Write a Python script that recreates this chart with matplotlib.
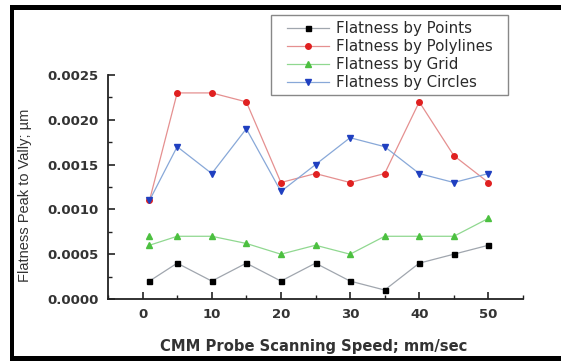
import matplotlib
matplotlib.use("Agg")
import matplotlib.pyplot as plt
from matplotlib.patches import Rectangle
from matplotlib.ticker import MultipleLocator, FormatStrFormatter

# Data
speed = [1, 5, 10, 15, 20, 25, 30, 35, 40, 45, 50]
points = [0.0002, 0.0004, 0.0002, 0.0004, 0.0002, 0.0004, 0.0002, 0.0001, 0.0004, 0.0005, 0.0006]
polylines = [0.0011, 0.0023, 0.0023, 0.0022, 0.0013, 0.0014, 0.0013, 0.0014, 0.0022, 0.0016, 0.0013]
grid = [0.0006, 0.0007, 0.0007, 0.00062, 0.0005, 0.0006, 0.0005, 0.0007, 0.0007, 0.0007, 0.0009]
grid_extra_x = [1]
grid_extra = [0.0007]
circles = [0.0011, 0.0017, 0.0014, 0.0019, 0.0012, 0.0015, 0.0018, 0.0017, 0.0014, 0.0013, 0.0014]
labels = ["Flatness by Points", "Flatness by Polylines", "Flatness by Grid", "Flatness by Circles"]
xticks = [0, 10, 20, 30, 40, 50]

W, H = 561, 361
fig = plt.figure(figsize=(W / 100, H / 100), dpi=100)
fig.patch.set_facecolor("white")

ax = fig.add_axes([108 / W, 1 - 299 / H, (523 - 108) / W, (299 - 75) / H])

ms = 4.0
lw = 0.9
ax.plot(speed, points, color="#a0a6ae", lw=lw, marker="s", ms=ms * 0.9,
        mfc="black", mec="black", label=labels[0])
ax.plot(speed, polylines, color="#e59090", lw=lw, marker="o", ms=ms,
        mfc="#e02020", mec="#e02020", label=labels[1])
ax.plot(speed, grid, color="#90d890", lw=lw, marker="^", ms=ms + 0.6,
        mfc="#4cc040", mec="#4cc040", label=labels[2])
ax.plot(grid_extra_x, grid_extra, ls="none", marker="^", ms=ms + 0.6,
        mfc="#4cc040", mec="#4cc040")
ax.plot(speed, circles, color="#88a8d8", lw=lw, marker="v", ms=ms + 0.6,
        mfc="#1f3fc0", mec="#1f3fc0", label=labels[3])

ax.set_xlim(-5, 55)
ax.set_ylim(0, 0.0025)
ax.set_xticks(xticks)
ax.xaxis.set_minor_locator(MultipleLocator(5))
ax.yaxis.set_major_locator(MultipleLocator(0.0005))
ax.yaxis.set_minor_locator(MultipleLocator(0.00025))
ax.yaxis.set_major_formatter(FormatStrFormatter("%.4f"))

for s in ["top", "right"]:
    ax.spines[s].set_visible(False)
for s in ["left", "bottom"]:
    ax.spines[s].set_linewidth(1.3)
    ax.spines[s].set_color("#222222")

ax.tick_params(which="major", direction="in", length=5, width=1.2, pad=6.5,
               labelsize=9.5, colors="#222222")
ax.tick_params(which="minor", direction="in", length=3, width=1.0, colors="#222222")
for t in ax.get_xticklabels() + ax.get_yticklabels():
    t.set_fontweight("bold")
    t.set_color("#333333")

fig.text(25 / W, 1 - 195 / H, "Flatness Peak to Vally; µm", rotation=90,
         ha="center", va="center", fontsize=10.5, family="Liberation Sans",
         color="#333333")
fig.text(314 / W, 1 - 346 / H, "CMM Probe Scanning Speed; mm/sec",
         ha="center", va="center", fontsize=10.6, fontweight="bold",
         color="#333333")

leg = ax.legend(loc="upper left", bbox_to_anchor=(287 / W, 1 - 21 / H),
                bbox_transform=fig.transFigure, borderaxespad=0, frameon=False,
                fontsize=10.8, handlelength=2.8, handletextpad=0.45,
                labelspacing=0.2, borderpad=0)
for t in leg.get_texts():
    t.set_color("#2a2a2a")

# legend frame
fig.add_artist(Rectangle((271 / W, 1 - 95 / H), (508 - 271) / W, (95 - 15) / H,
                         transform=fig.transFigure, facecolor="none",
                         edgecolor="#888888", lw=1.0, zorder=5))

# image border
def rect(x0, y0, x1, y1):
    fig.add_artist(Rectangle((x0 / W, 1 - y1 / H), (x1 - x0) / W, (y1 - y0) / H,
                             transform=fig.transFigure, color="black", lw=0))

rect(10, 5, W, 10)
rect(10, 5, 14, H)
rect(10, 356, W, H)

fig.savefig("out.png", dpi=100)
